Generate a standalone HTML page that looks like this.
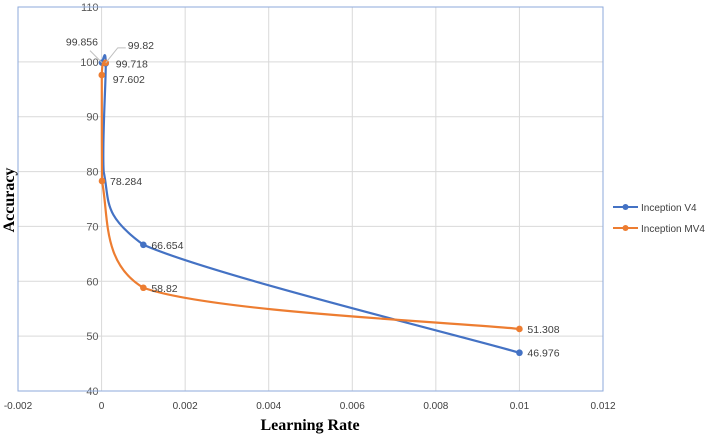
<!DOCTYPE html>
<html><head><meta charset="utf-8"><style>
body{margin:0;background:#fff;width:707px;height:436px;overflow:hidden}
svg{display:block;font-family:"Liberation Sans",sans-serif}
</style></head><body>
<svg id="chart" width="707" height="436"></svg>
<script>
const xTicks=[-0.002,0,0.002,0.004,0.006,0.008,0.01,0.012];
const xTickLabels=["-0.002","0","0.002","0.004","0.006","0.008","0.01","0.012"];
const yTicks=[40,50,60,70,80,90,100,110];
const seriesNames=["Inception V4","Inception MV4"];
const v4X=[0.00001,0.0001,0.00005,0.001,0.01];
const v4Y=[99.856,99.718,80,66.654,46.976];
const v4Labels=["99.856","99.718","","66.654","46.976"];
const mv4X=[0.0001,0.000005,0.00001,0.001,0.01];
const mv4Y=[99.82,97.602,78.284,58.82,51.308];
const mv4Labels=["99.82","97.602","78.284","58.82","51.308"];
const colors=["#4472c4","#ed7d31"];
const X0=18,X1=603,Y0=391,Y1=7;
const sx=v=>X0+(v-(-0.002))/(0.014)*(X1-X0);
const sy=v=>Y0-(v-40)/70*(Y0-Y1);
const svg=document.getElementById('chart');
const NS="http://www.w3.org/2000/svg";
function mk(t,a,p){const e=document.createElementNS(NS,t);for(const k in a)e.setAttribute(k,a[k]);(p||svg).appendChild(e);return e;}
xTicks.forEach((t,i)=>{
 if(i>0&&i<xTicks.length-1){const g=mk('line',{x1:sx(t),x2:sx(t),y1:Y1,y2:Y0,stroke:'#d9d9d9'});
 
 }
 const l=mk('text',{x:sx(t),y:409,'text-anchor':'middle','font-size':10,fill:'#404040'});l.textContent=xTickLabels[i];
 
 
});
yTicks.forEach(t=>{
 if(t>40&&t<110){const g=mk('line',{x1:X0,x2:X1,y1:sy(t),y2:sy(t),stroke:'#d9d9d9'});
 
 }
 const l=mk('text',{x:sx(0)-3,y:sy(t)+4,'text-anchor':'end','font-size':11,fill:'#595959'});l.textContent=t;
 
 
});
const bx=mk('rect',{x:X0,y:Y1,width:X1-X0,height:Y0-Y1,fill:'none',stroke:'#8eaadb','stroke-width':1});


function sortedPath(xs,ys){
 const pts=xs.map((x,i)=>[sx(x),sy(ys[i])]);
 pts.sort((a,b)=>a[1]-b[1]);
 const minX=Math.min(...pts.map(p=>p[0]));
 const maxY=Math.max(...pts.map(p=>p[1]));
 const cl=(c)=>[Math.max(c[0],minX),Math.min(c[1],maxY)];
 let d=`M${pts[0][0]},${pts[0][1]}`;
 for(let i=0;i<pts.length-1;i++){
  const p0=pts[Math.max(i-1,0)],p1=pts[i],p2=pts[i+1],p3=pts[Math.min(i+2,pts.length-1)];
  const c1=cl([p1[0]+(p2[0]-p0[0])/6,p1[1]+(p2[1]-p0[1])/6]);
  const c2=cl([p2[0]-(p3[0]-p1[0])/6,p2[1]-(p3[1]-p1[1])/6]);
  d+=` C${c1[0]},${c1[1]} ${c2[0]},${c2[1]} ${p2[0]},${p2[1]}`;
 }
 return d;
}
[[v4X,v4Y,v4Labels],[mv4X,mv4Y,mv4Labels]].forEach((s,k)=>{
 const p=mk('path',{d:sortedPath(s[0],s[1]),fill:'none',stroke:colors[k],'stroke-width':2.2});
 
 
 s[0].forEach((x,i)=>{
  if(!s[2][i])return;
  const c=mk('circle',{cx:sx(x),cy:sy(s[1][i]),r:3.3,fill:colors[k]});
  
  
  let tx=sx(x)+8,ty=sy(s[1][i])+4,anchor='start';
  if(k===0&&i===0){tx=sx(x)-4;ty=sy(s[1][i])-17;anchor='end';}
  if(k===1&&i===0){tx=sx(x)+22;ty=sy(s[1][i])-14;}
  if(k===0&&i===1){tx=sx(x)+10;ty=sy(s[1][i])+4;}
  if(k===1&&i===1){tx=sx(x)+11;ty=sy(s[1][i])+8;}
  const t=mk('text',{x:tx,y:ty,'text-anchor':anchor,'font-size':10.5,fill:'#404040'});t.textContent=s[2][i];
  
  
 });
});
const ld1=mk('polyline',{points:`${sx(0.00001)},${sy(99.856)} ${sx(0.00001)-12},${sy(99.856)-12}`,fill:'none',stroke:'#bfbfbf'});


const ld2=mk('polyline',{points:`${sx(0.0001)},${sy(99.82)} ${sx(0.0001)+12},${sy(99.82)-15} ${sx(0.0001)+20},${sy(99.82)-15}`,fill:'none',stroke:'#bfbfbf'});


seriesNames.forEach((n,k)=>{
 const y=207+k*21;
 const g=mk('g',{});
 
 
 mk('line',{x1:613,x2:638,y1:y,y2:y,stroke:colors[k],'stroke-width':2},g);
 mk('circle',{cx:625.5,cy:y,r:3,fill:colors[k]},g);
 const t=mk('text',{x:641,y:y+4,'font-size':10,fill:'#404040'},g);t.textContent=n;
});
const xt=mk('text',{x:310,y:430,'text-anchor':'middle','font-size':16,'font-weight':'bold','font-family':'"Liberation Serif",serif',fill:'#000'});xt.textContent='Learning Rate';


const yt=mk('text',{x:0,y:0,'text-anchor':'middle','font-size':16,'font-weight':'bold','font-family':'"Liberation Serif",serif',fill:'#000',transform:'translate(14,200) rotate(-90)'});yt.textContent='Accuracy';


</script>
</body></html>
